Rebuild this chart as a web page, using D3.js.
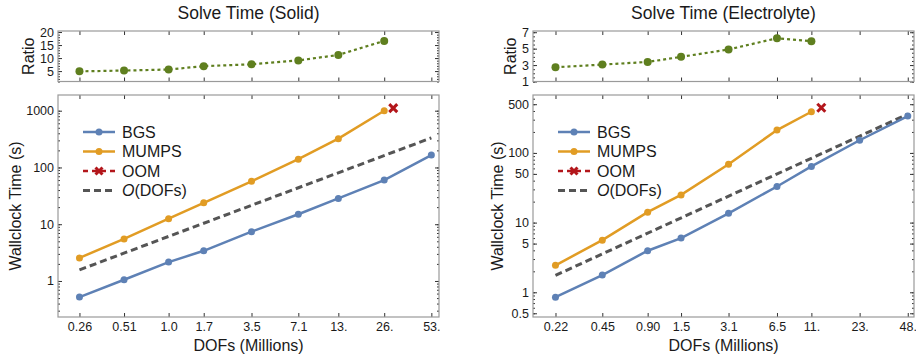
<!DOCTYPE html>
<html>
<head>
<meta charset="utf-8">
<script src="https://cdn.jsdelivr.net/npm/d3@7"></script>
<style>
  body { margin: 0; background: #fff; }
  text { font-family: "Liberation Sans", Arial, sans-serif; fill: #1a1a1a; }
</style>
</head>
<body>
<svg id="chart"></svg>
<script>
const width = 916;
const height = 359;

// DATA - solid
const solidDofs = [0.26, 0.51, 1.0, 1.7, 3.5, 7.1, 13, 26, 53];
const solidDofLabels = ["0.26", "0.51", "1.0", "1.7", "3.5", "7.1", "13.", "26.", "53."];
const solidBgs = [0.52, 1.05, 2.15, 3.4, 7.4, 15, 28.5, 60, 165];
const solidMumps = [2.55, 5.5, 12.5, 23.8, 57, 140, 322, 1000];
const solidRatio = [4.9, 5.2, 5.6, 6.9, 7.6, 9.1, 11.2, 16.6];
const solidOom = [[29.8, 1110]];
const solidOrder = [[0.26, 1.57], [53, 332]];
const solidTimeTicks = [1, 10, 100, 1000];
const solidRatioTicks = [5, 10, 15, 20];

// DATA - electrolyte
const elecDofs = [0.22, 0.45, 0.90, 1.5, 3.1, 6.5, 11, 23, 48];
const elecDofLabels = ["0.22", "0.45", "0.90", "1.5", "3.1", "6.5", "11.", "23.", "48."];
const elecBgs = [0.85, 1.77, 3.95, 6.0, 13.6, 33, 64, 152, 338];
const elecMumps = [2.44, 5.6, 14.1, 25, 68.6, 213, 390];
const elecRatio = [2.73, 3.06, 3.38, 4.0, 4.9, 6.27, 5.9];
const elecOom = [[12.8, 445]];
const elecOrder = [[0.22, 1.75], [48, 360]];
const elecTimeTicks = [0.5, 1, 5, 10, 50, 100, 500];
const elecRatioTicks = [1, 3, 5, 7];

const legendNames = ["BGS", "MUMPS", "OOM", "DOFs"];

const blue = "#5e81b5", orange = "#e19c24", red = "#b3161b", gray = "#555555", green = "#5f7f1f";
const frameColor = "#9a9a9a";

const svg = d3.select("#chart").attr("width", width).attr("height", height);

function logMinor(domain) {
  const out = [];
  for (let e = Math.floor(Math.log10(domain[0])); e <= Math.ceil(Math.log10(domain[1])); e++) {
    for (let m = 1; m < 10; m++) {
      const v = m * Math.pow(10, e);
      if (v >= domain[0] && v <= domain[1]) out.push(v);
    }
  }
  return out;
}

function styleAxis(g) {
  g.select(".domain").remove();
  g.selectAll(".tick line").attr("stroke", "#333");
  g.selectAll(".tick text").style("font-size", "12.5px").attr("fill", "#1a1a1a");
}

function drawFrame(g, w, h, x, y, yMajor, yMinor, yFormat, ticksX, labelsX) {
  const bottom = d3.axisBottom(x).tickValues(ticksX).tickSize(-4).tickPadding(5)
    .tickFormat((d, i) => labelsX ? labelsX[i] : "");
  g.append("g").attr("transform", `translate(0,${h})`).call(bottom).call(styleAxis);
  g.append("g").call(d3.axisTop(x).tickValues(ticksX).tickSize(-4).tickFormat("")).call(styleAxis);

  g.append("g").call(d3.axisLeft(y).tickValues(yMajor).tickSize(-4).tickPadding(4).tickFormat(yFormat)).call(styleAxis);
  g.append("g").call(d3.axisLeft(y).tickValues(yMinor).tickSize(-2).tickFormat("")).call(styleAxis);
  g.append("g").attr("transform", `translate(${w},0)`)
    .call(d3.axisRight(y).tickValues(yMajor).tickSize(-4).tickFormat("")).call(styleAxis);
  g.append("g").attr("transform", `translate(${w},0)`)
    .call(d3.axisRight(y).tickValues(yMinor).tickSize(-2).tickFormat("")).call(styleAxis);

  g.append("rect").attr("width", w).attr("height", h)
    .attr("fill", "none").attr("stroke", frameColor).attr("stroke-width", 1.2);
}

function drawX(sel, cx, cy, s, color) {
  sel.append("path")
    .attr("d", `M${cx - s},${cy - s}L${cx + s},${cy + s}M${cx - s},${cy + s}L${cx + s},${cy - s}`)
    .attr("stroke", color).attr("stroke-width", 3).attr("stroke-linecap", "butt");
}

function drawPanel(p) {
  const left = p.left, w = p.width;
  const ratioTop = 31, ratioH = 50.5;
  const mainTop = 95, mainH = 222;

  const x = d3.scaleLog().domain(p.xDomain).range([0, w]);

  // title
  svg.append("text").attr("x", left + w / 2).attr("y", 19)
    .attr("text-anchor", "middle").style("font-size", "17.5px").text(p.title);

  // ratio panel
  const yr = d3.scaleLinear().domain(p.ratioDomain).range([ratioH, 0]);
  const gr = svg.append("g").attr("transform", `translate(${left},${ratioTop})`);
  drawFrame(gr, w, ratioH, x, yr, p.ratioTicks, d3.range(p.ratioDomain[0], p.ratioDomain[1], p.ratioMinor),
    d => d, p.dofs, null);

  gr.append("path").datum(p.ratio)
    .attr("fill", "none").attr("stroke", green).attr("stroke-width", 2.2)
    .attr("stroke-dasharray", "3,3")
    .attr("d", d3.line().x((d, i) => x(p.dofs[i])).y(d => yr(d)));
  gr.selectAll("circle").data(p.ratio).enter().append("circle")
    .attr("cx", (d, i) => x(p.dofs[i])).attr("cy", d => yr(d)).attr("r", 4).attr("fill", green);

  svg.append("text")
    .attr("transform", `translate(${p.ratioTitleX},${ratioTop + ratioH / 2}) rotate(-90)`)
    .attr("text-anchor", "middle").attr("dy", "0.35em").style("font-size", "16px").text("Ratio");

  // main panel
  const y = d3.scaleLog().domain(p.yDomain).range([mainH, 0]);
  const g = svg.append("g").attr("transform", `translate(${left},${mainTop})`);
  drawFrame(g, w, mainH, x, y, p.timeTicks, logMinor(p.yDomain), d => d, p.dofs, p.dofLabels);

  // O(DOFs) reference
  g.append("path").datum(p.order)
    .attr("fill", "none").attr("stroke", gray).attr("stroke-width", 3)
    .attr("stroke-dasharray", "7,4")
    .attr("d", d3.line().x(d => x(d[0])).y(d => y(d[1])));

  [[p.bgs, blue], [p.mumps, orange]].forEach(([vals, color]) => {
    g.append("path").datum(vals)
      .attr("fill", "none").attr("stroke", color).attr("stroke-width", 2.5)
      .attr("d", d3.line().x((d, i) => x(p.dofs[i])).y(d => y(d)));
    g.append("g").selectAll("circle").data(vals).enter().append("circle")
      .attr("cx", (d, i) => x(p.dofs[i])).attr("cy", d => y(d)).attr("r", 3.5).attr("fill", color);
  });

  p.oom.forEach(d => drawX(g, x(d[0]), y(d[1]), 4, red));

  // legend
  const lg = g.append("g").attr("transform", "translate(25,37)");
  legendNames.forEach((name, i) => {
    const row = lg.append("g").attr("transform", `translate(0,${i * 19.5})`);
    const line = row.append("line").attr("x1", 0).attr("x2", 32).attr("y1", 0).attr("y2", 0);
    if (i === 0 || i === 1) {
      const c = i === 0 ? blue : orange;
      line.attr("stroke", c).attr("stroke-width", 2.5);
      row.append("circle").attr("cx", 16).attr("cy", 0).attr("r", 3.5).attr("fill", c);
    } else if (i === 2) {
      line.attr("stroke", red).attr("stroke-width", 2.5).attr("stroke-dasharray", "5,4");
      drawX(row, 16, 0, 3.5, red);
    } else {
      line.attr("stroke", gray).attr("stroke-width", 3).attr("stroke-dasharray", "7,4");
    }
    const t = row.append("text").attr("x", 39).attr("dy", "0.35em").style("font-size", "16px");
    if (i === 3) {
      t.append("tspan").style("font-style", "italic").text("O");
      t.append("tspan").text("(DOFs)");
    } else {
      t.text(name);
    }
  });

  // axis titles
  svg.append("text")
    .attr("transform", `translate(${p.timeTitleX},${mainTop + mainH / 2}) rotate(-90)`)
    .attr("text-anchor", "middle").attr("dy", "0.35em").style("font-size", "16px")
    .text("Wallclock Time (s)");
  svg.append("text").attr("x", left + w / 2).attr("y", 351)
    .attr("text-anchor", "middle").style("font-size", "16px").text("DOFs (Millions)");
}

drawPanel({
  title: "Solve Time (Solid)", left: 58, width: 381,
  xDomain: [0.188, 59.5], yDomain: [0.232, 1890], ratioDomain: [1, 20.4], ratioMinor: 1,
  dofs: solidDofs, dofLabels: solidDofLabels, bgs: solidBgs, mumps: solidMumps,
  ratio: solidRatio, oom: solidOom, order: solidOrder,
  timeTicks: solidTimeTicks, ratioTicks: solidRatioTicks,
  timeTitleX: 15, ratioTitleX: 28
});

drawPanel({
  title: "Solve Time (Electrolyte)", left: 533, width: 381,
  xDomain: [0.156, 52.8], yDomain: [0.442, 678], ratioDomain: [1, 7.15], ratioMinor: 0.5,
  dofs: elecDofs, dofLabels: elecDofLabels, bgs: elecBgs, mumps: elecMumps,
  ratio: elecRatio, oom: elecOom, order: elecOrder,
  timeTicks: elecTimeTicks, ratioTicks: elecRatioTicks,
  timeTitleX: 497.7, ratioTitleX: 510
});
</script>
</body>
</html>
